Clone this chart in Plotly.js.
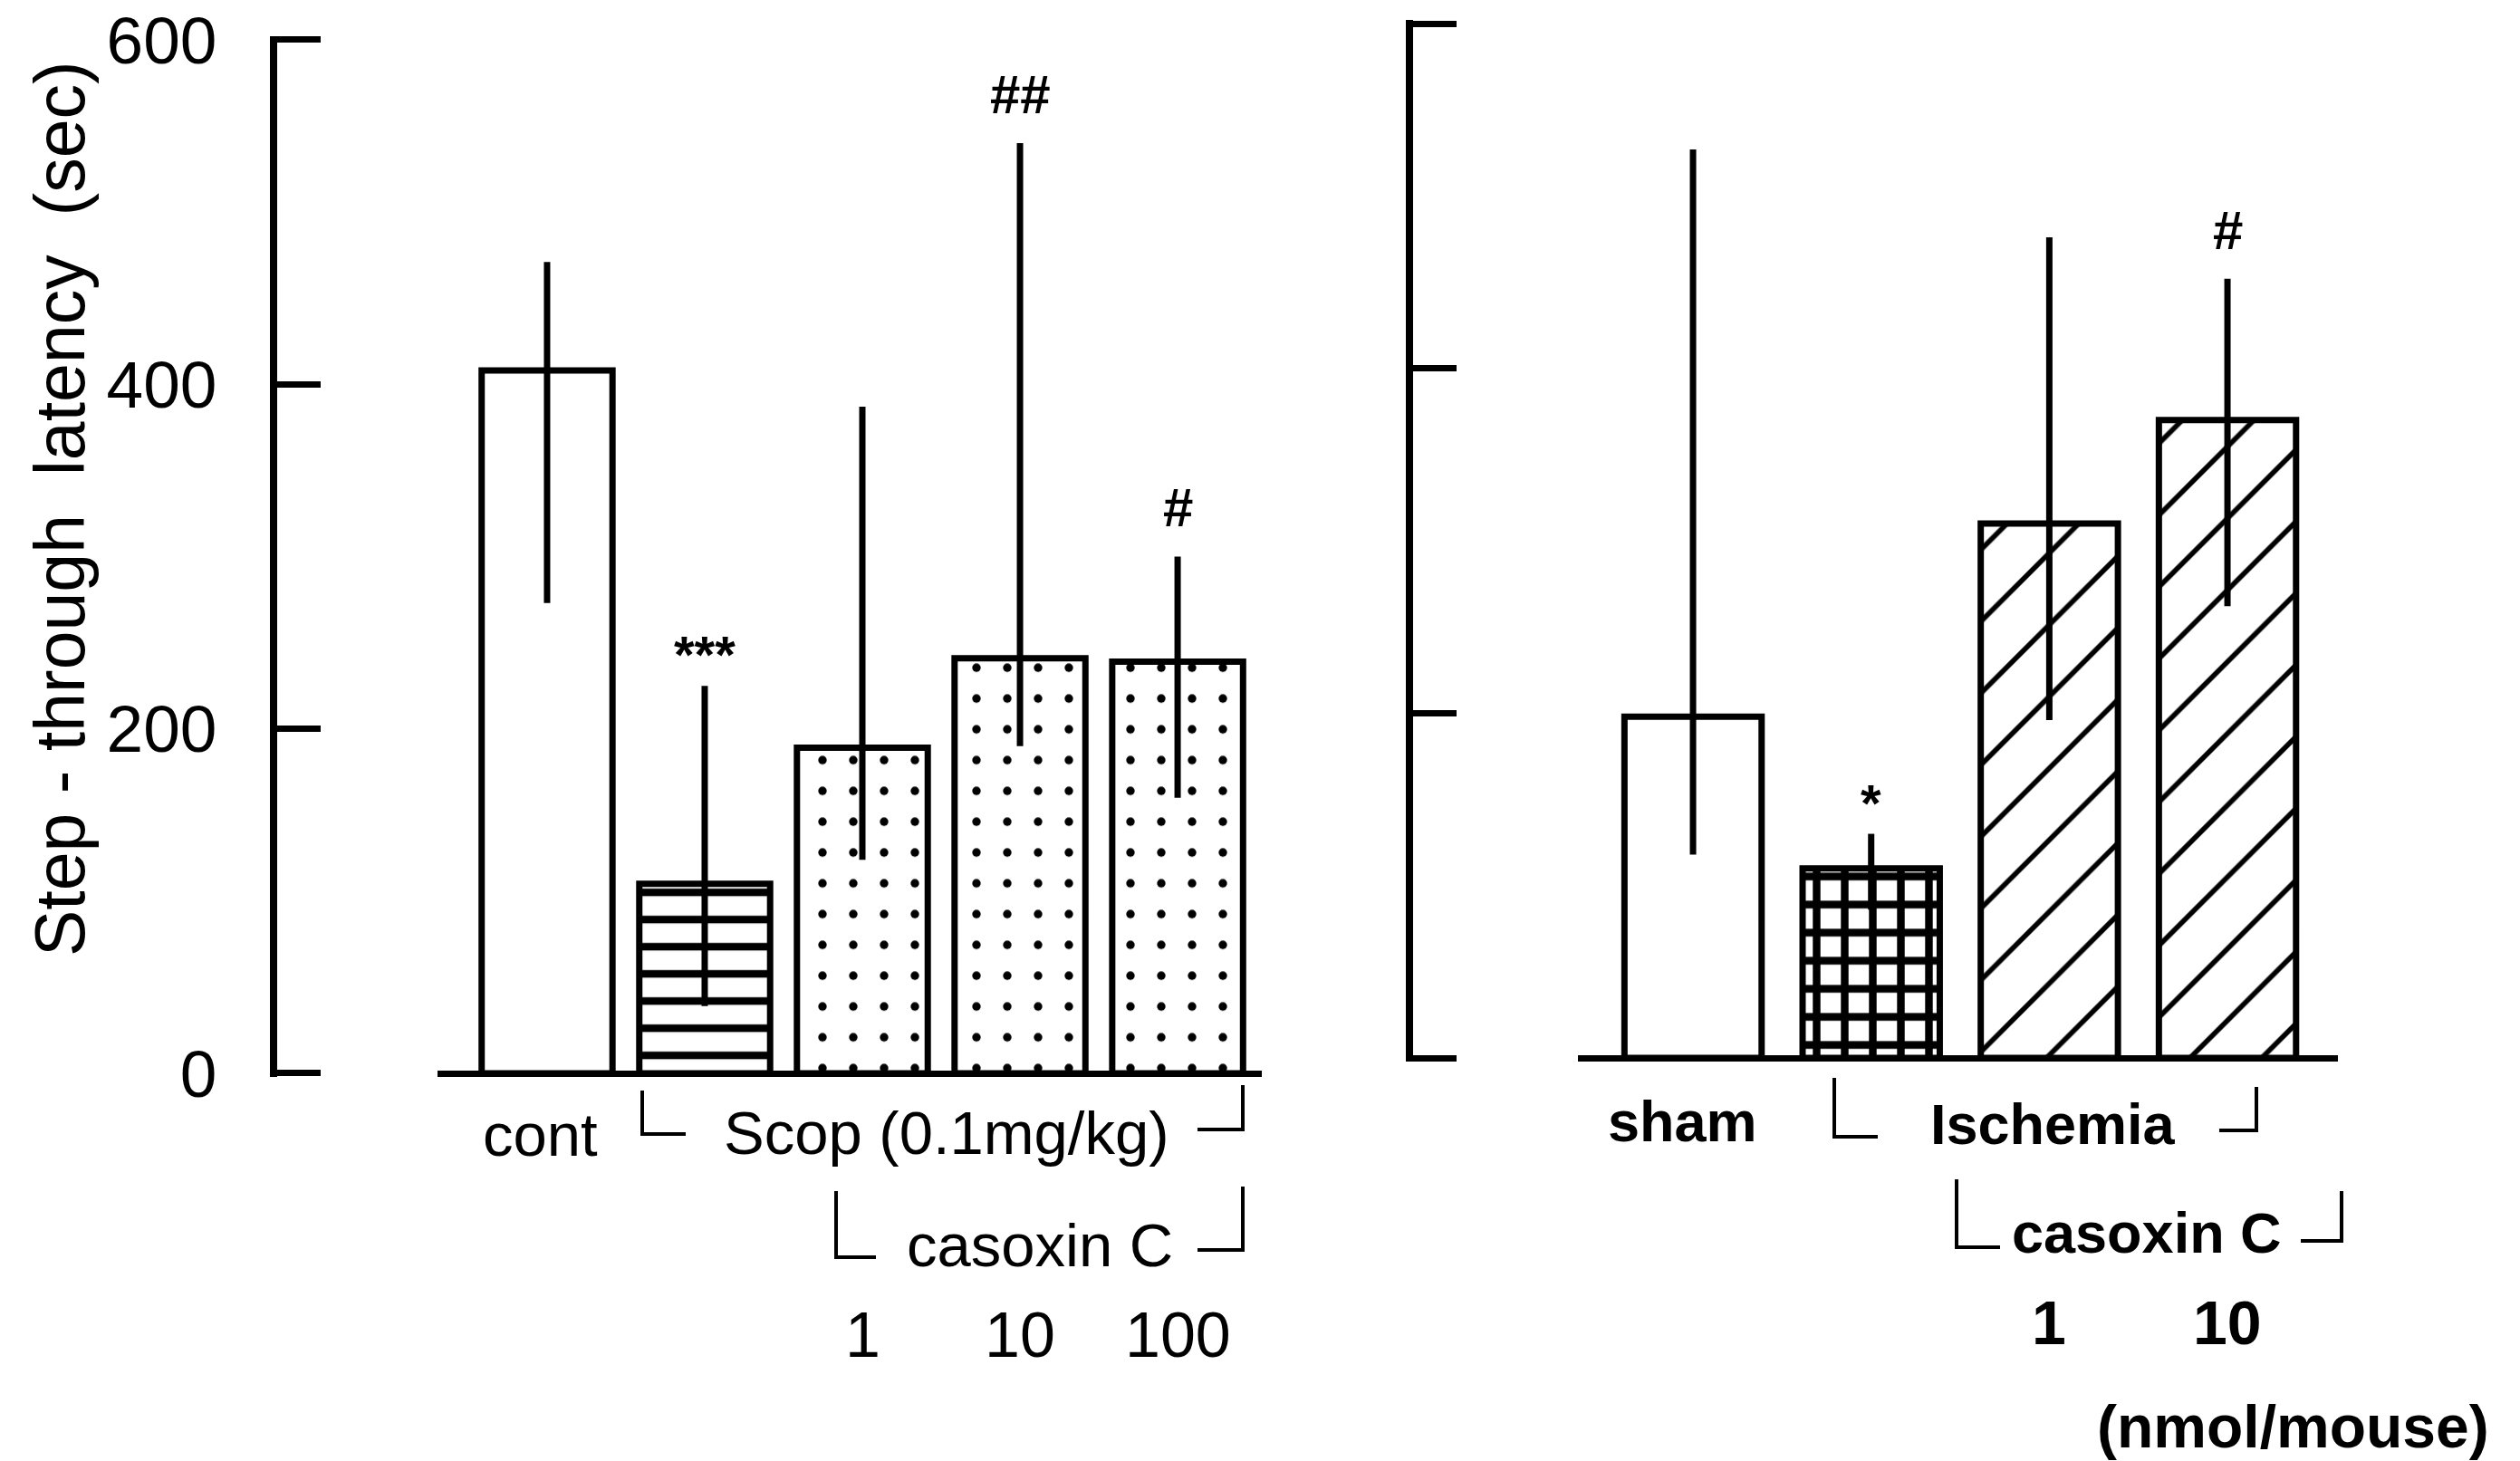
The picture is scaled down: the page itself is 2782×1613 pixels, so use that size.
<!DOCTYPE html>
<html>
<head>
<meta charset="utf-8">
<script src="https://cdn.plot.ly/plotly-3.0.1.min.js"></script>
<style>html,body{margin:0;padding:0;background:#fff;}</style>
</head>
<body>
<div id="chart" style="width:2782px;height:1613px;"></div>
<script>
// ---------- DATA ----------
// Left panel: scopolamine-induced amnesia
const leftCategories = ['cont', 'Scop', 'Scop + casoxin C 1', 'Scop + casoxin C 10', 'Scop + casoxin C 100'];
const leftMeans   = [408, 110, 189, 241, 239];
const leftErrHigh = [471, 225, 387, 540, 300];
const leftErrLow  = [273, 39, 124, 190, 160];
const leftSig     = ['', '***', '', '##', '#'];
const leftDoses   = ['', '', '1', '10', '100'];
const leftGroupLabels = ['cont', 'Scop (0.1mg/kg)', 'casoxin C'];

// Right panel: ischemia-induced amnesia
const rightCategories = ['sham', 'ischemia', 'ischemia + casoxin C 1', 'ischemia + casoxin C 10'];
const rightMeans   = [198, 110, 310, 370];
const rightErrHigh = [527, 130, 476, 452];
const rightErrLow  = [118, 86, 196, 262];
const rightSig     = ['', '*', '', '#'];
const rightDoses   = ['', '', '1', '10'];
const rightGroupLabels = ['sham', 'Ischemia', 'casoxin C'];
const unitLabel = '(nmol/mouse)';

const yTicks = [0, 200, 400, 600];
const yTitle = 'Step - through\u00a0\u00a0latency\u00a0\u00a0(sec)';

// ---------- STYLES / GEOMETRY ----------
const W = 2782, H = 1613;
const px = x => x / W;
const py = y => 1 - y / H;
const FONT = 'Liberation Sans, Arial, Helvetica, sans-serif';
const leftPatterns  = ['', '-', '.', '.', '.'];
const leftPatSize   = [10, 30, 34, 34, 34];
const leftPatSolid  = [0.2, 0.28, 0.06, 0.06, 0.06];
const rightPatterns = ['', '+', '/', '/'];
const rightPatSize  = [10, 31, 56, 56];
const rightPatSolid = [0.2, 0.47, 0.1, 0.1];

function barTrace(cats, means, hi, lo, shapes, sizes, sol, xa, ya, w) {
  return {
    type: 'bar', x: cats, y: means, xaxis: xa, yaxis: ya, width: w,
    marker: {
      color: 'white',
      line: {color: 'black', width: 7},
      pattern: {shape: shapes, size: sizes, solidity: sol, fgcolor: 'black', bgcolor: 'white', fillmode: 'replace'}
    },
    error_y: {
      type: 'data', symmetric: false,
      array: hi.map((v, i) => v - means[i]),
      arrayminus: lo.map((v, i) => means[i] - v),
      color: 'black', thickness: 7, width: 0
    },
    hoverinfo: 'skip', showlegend: false
  };
}

const traces = [
  barTrace(leftCategories, leftMeans, leftErrHigh, leftErrLow, leftPatterns, leftPatSize, leftPatSolid, 'x', 'y', 0.83),
  barTrace(rightCategories, rightMeans, rightErrHigh, rightErrLow, rightPatterns, rightPatSize, rightPatSolid, 'x2', 'y2', 0.77)
];

const annotations = [];
function sigAnn(cats, hi, sig, xr, yr) {
  sig.forEach((s, i) => {
    if (!s) return;
    const star = s.indexOf('*') >= 0;
    annotations.push({
      xref: xr, yref: yr, x: cats[i], y: hi[i], text: '<b>' + s + '</b>', showarrow: false,
      xanchor: 'center', yanchor: 'bottom', yshift: star ? 0 : 18,
      font: {family: FONT, size: star ? 58 : 60, color: 'black'}
    });
  });
}
sigAnn(leftCategories, leftErrHigh, leftSig, 'x', 'y');
sigAnn(rightCategories, rightErrHigh, rightSig, 'x2', 'y2');

function txt(text, x, y, size, bold, opts) {
  annotations.push(Object.assign({
    xref: 'paper', yref: 'paper', x: px(x), y: py(y), text: bold ? '<b>' + text + '</b>' : text,
    showarrow: false, xanchor: 'center', yanchor: 'middle',
    font: {family: FONT, size: size, color: 'black'}
  }, opts || {}));
}
// y axis title
txt(yTitle, 66, 562, 77, false, {textangle: -90});
// left labels
txt(leftGroupLabels[0], 596, 1252, 67);
txt(leftGroupLabels[1], 1045, 1250, 67);
txt(leftGroupLabels[2], 1148, 1374, 67);
// right labels
txt(rightGroupLabels[0], 1858, 1238, 63, true);
txt(rightGroupLabels[1], 2266, 1241, 63, true);
txt(rightGroupLabels[2], 2370, 1361, 63, true);
txt(unitLabel, 2531, 1575, 66, true);

// dose labels under bars
leftDoses.forEach((d, i) => {
  if (!d) return;
  annotations.push({xref: 'x', yref: 'paper', x: leftCategories[i], y: py(1474), text: d, showarrow: false,
    xanchor: 'center', yanchor: 'middle', font: {family: FONT, size: 70, color: 'black'}});
});
rightDoses.forEach((d, i) => {
  if (!d) return;
  annotations.push({xref: 'x2', yref: 'paper', x: rightCategories[i], y: py(1460), text: '<b>' + d + '</b>', showarrow: false,
    xanchor: 'center', yanchor: 'middle', font: {family: FONT, size: 68, color: 'black'}});
});

// bracket decorations (pixel geometry -> paper)
function bracket(pts) {
  let d = '';
  pts.forEach((p, i) => { d += (i ? 'L' : 'M') + px(p[0]) + ',' + py(p[1]); });
  return {type: 'path', xref: 'paper', yref: 'paper', path: d, line: {color: 'black', width: 4}};
}
const shapes = [
  bracket([[709, 1204], [709, 1252], [757, 1252]]),
  bracket([[1322, 1247], [1372, 1247], [1372, 1198]]),
  bracket([[923, 1315], [923, 1388], [967, 1388]]),
  bracket([[1322, 1380], [1372, 1380], [1372, 1310]]),
  bracket([[2025, 1190], [2025, 1255], [2073, 1255]]),
  bracket([[2450, 1248], [2491, 1248], [2491, 1200]]),
  bracket([[2160, 1302], [2160, 1377], [2208, 1377]]),
  bracket([[2540, 1370], [2585, 1370], [2585, 1315]])
];

// y range padded by 2 units so end ticks (0 and 600) are drawn; domains keep 0 and 600 at the same pixels
const Y0 = -2, Y1 = 602;
function yDomain(pix0, pix600) {
  const k = (pix0 - pix600) / 600;
  return [py(pix0 - Y0 * k), py(pix600 - (Y1 - 600) * k)];
}

const xCommon = {showline: true, linecolor: 'black', linewidth: 7, showticklabels: false, ticks: '',
  showgrid: false, zeroline: false, type: 'category', fixedrange: true, anchor: 'free'};
const yCommon = {range: [Y0, Y1], anchor: 'free', showline: true, linecolor: 'black', linewidth: 8,
  ticks: 'inside', ticklen: 48, tickwidth: 7, tickcolor: 'black', tickvals: yTicks,
  ticktext: yTicks.map(String), showgrid: false, zeroline: false, fixedrange: true,
  tickfont: {family: FONT, size: 73, color: 'black'}};

const layout = {
  width: W, height: H, autosize: false,
  margin: {l: 0, r: 0, t: 0, b: 0, pad: 0},
  paper_bgcolor: 'white', plot_bgcolor: 'rgba(0,0,0,0)',
  bargap: 0, showlegend: false,
  font: {family: FONT, color: 'black'},
  xaxis: Object.assign({}, xCommon, {domain: [px(483), px(1393)], range: [-0.695, 4.534], position: py(1185)}),
  yaxis: Object.assign({}, yCommon, {domain: yDomain(1185, 44), position: px(302), ticklabelstandoff: 44}),
  xaxis2: Object.assign({}, xCommon, {domain: [px(1742), px(2581)], range: [-0.646, 3.62], position: py(1168)}),
  yaxis2: Object.assign({}, yCommon, {domain: yDomain(1168, 26), position: px(1556), showticklabels: false}),
  annotations: annotations,
  shapes: shapes
};

Plotly.newPlot('chart', traces, layout, {displayModeBar: false, staticPlot: true});
</script>
</body>
</html>
